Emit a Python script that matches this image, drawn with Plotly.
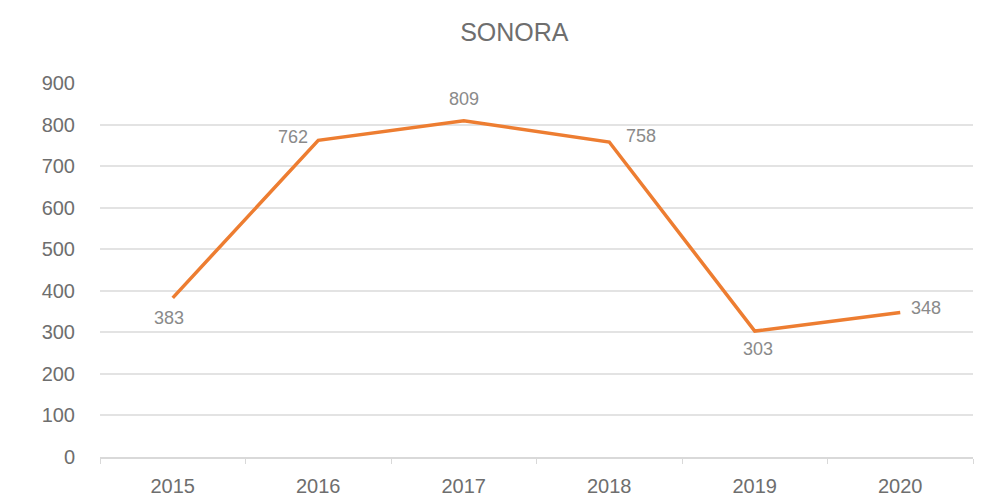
import plotly.graph_objects as go

years = ["2015", "2016", "2017", "2018", "2019", "2020"]
values = [383, 762, 809, 758, 303, 348]
y_ticks = [0, 100, 200, 300, 400, 500, 600, 700, 800, 900]

# label placement styles (pixel offsets)
lab_xanchor = ["center", "right", "center", "left", "center", "left"]
lab_xshift = [-4, -8, 0, 15, 3, 9]
lab_yshift = [-20, 3, 22, 6, -18, 4]

fig = go.Figure()
fig.add_trace(go.Scatter(
    x=years, y=values, mode="lines",
    line=dict(color="#ED7D31", width=3.5),
    cliponaxis=False, showlegend=False, hoverinfo="x+y",
))
for i, (v, xa, xs, ys) in enumerate(zip(values, lab_xanchor, lab_xshift, lab_yshift)):
    fig.add_annotation(x=i, y=v, xref="x", yref="y", text=str(v), showarrow=False,
                       xanchor=xa, yanchor="middle", xshift=xs, yshift=ys,
                       font=dict(family="Liberation Sans, Arial", size=18, color="#8a8a8a"))
fig.update_layout(
    width=989, height=496,
    margin=dict(l=92, r=24, t=75, b=47),
    paper_bgcolor="white", plot_bgcolor="white",
    title=dict(text="SONORA", x=0.512, xanchor="center", y=0.951, yanchor="middle",
               font=dict(family="Liberation Sans, Arial", size=25, color="#6e6e6e")),
    font=dict(family="Liberation Sans, Arial", size=20, color="#6e6e6e"),
)
fig.update_xaxes(type="category", range=[-0.5, 5.5], showgrid=False,
                 showline=True, linecolor="#d9d9d9", linewidth=1.5,
                 ticks="outside", tickson="boundaries", ticklen=5, tickcolor="#d9d9d9",
                 tickfont=dict(size=20, color="#6e6e6e"), zeroline=False,
                 ticklabelstandoff=10, automargin=False)
fig.update_yaxes(range=[0, 900], tickvals=y_ticks, showgrid=True, gridcolor="#e3e3e3",
                 gridwidth=1.5, zeroline=False, showline=False, ticks="",
                 tickfont=dict(size=20, color="#6e6e6e"), ticklabelstandoff=24,
                 automargin=False)
fig.write_html("out.html")
